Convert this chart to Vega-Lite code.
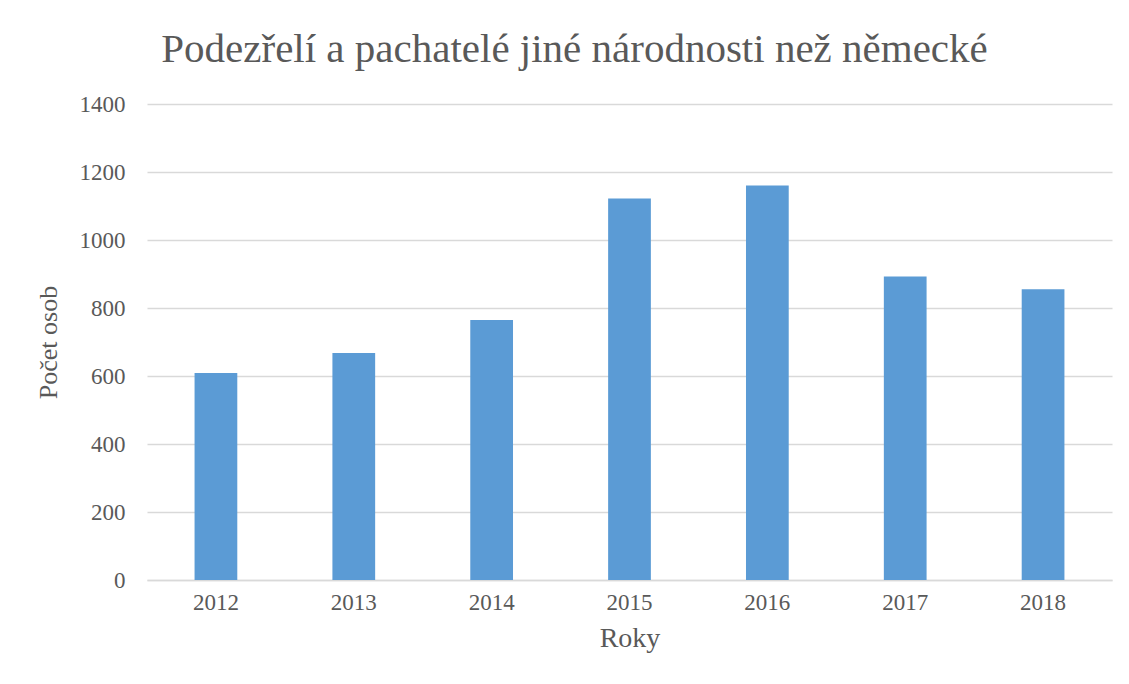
{
  "$schema": "https://vega.github.io/schema/vega-lite/v6.json",
  "width": 965,
  "height": 476,
  "autosize": {"type": "none"},
  "padding": {"left": 147, "top": 104, "right": 17, "bottom": 104},
  "background": "white",
  "title": {
    "text": "Podezřelí a pachatelé jiné národnosti než německé",
    "font": "Liberation Serif",
    "fontSize": 41,
    "fontWeight": "normal",
    "color": "#595959",
    "anchor": "middle",
    "dx": -55,
    "offset": 22
  },
  "data": {
    "values": [
      {"rok": "2012", "pocet": 609},
      {"rok": "2013", "pocet": 668},
      {"rok": "2014", "pocet": 765},
      {"rok": "2015", "pocet": 1122},
      {"rok": "2016", "pocet": 1160},
      {"rok": "2017", "pocet": 893},
      {"rok": "2018", "pocet": 855}
    ]
  },
  "mark": {"type": "bar", "color": "#5b9bd5"},
  "encoding": {
    "x": {
      "field": "rok",
      "type": "ordinal",
      "scale": {"paddingInner": 0.69, "paddingOuter": 0.345},
      "axis": {
        "title": "Roky",
        "labelAngle": 0,
        "labelFont": "Liberation Serif",
        "labelFontSize": 23,
        "labelColor": "#595959",
        "labelPadding": 11,
        "titleFont": "Liberation Serif",
        "titleFontSize": 28,
        "titleFontWeight": "normal",
        "titleColor": "#595959",
        "titlePadding": 10,
        "ticks": false,
        "domainColor": "#d9d9d9",
        "domainWidth": 1.5
      }
    },
    "y": {
      "field": "pocet",
      "type": "quantitative",
      "scale": {"domain": [0, 1400]},
      "axis": {
        "title": "Počet osob",
        "format": "d",
        "values": [0, 200, 400, 600, 800, 1000, 1200, 1400],
        "labelFont": "Liberation Serif",
        "labelFontSize": 23,
        "labelColor": "#595959",
        "labelPadding": 22,
        "titleFont": "Liberation Serif",
        "titleFontSize": 26,
        "titleFontWeight": "normal",
        "titleColor": "#595959",
        "titlePadding": 18,
        "ticks": false,
        "domain": false,
        "gridColor": "#d9d9d9",
        "gridWidth": 1.5
      }
    }
  },
  "config": {"view": {"stroke": null}}
}
